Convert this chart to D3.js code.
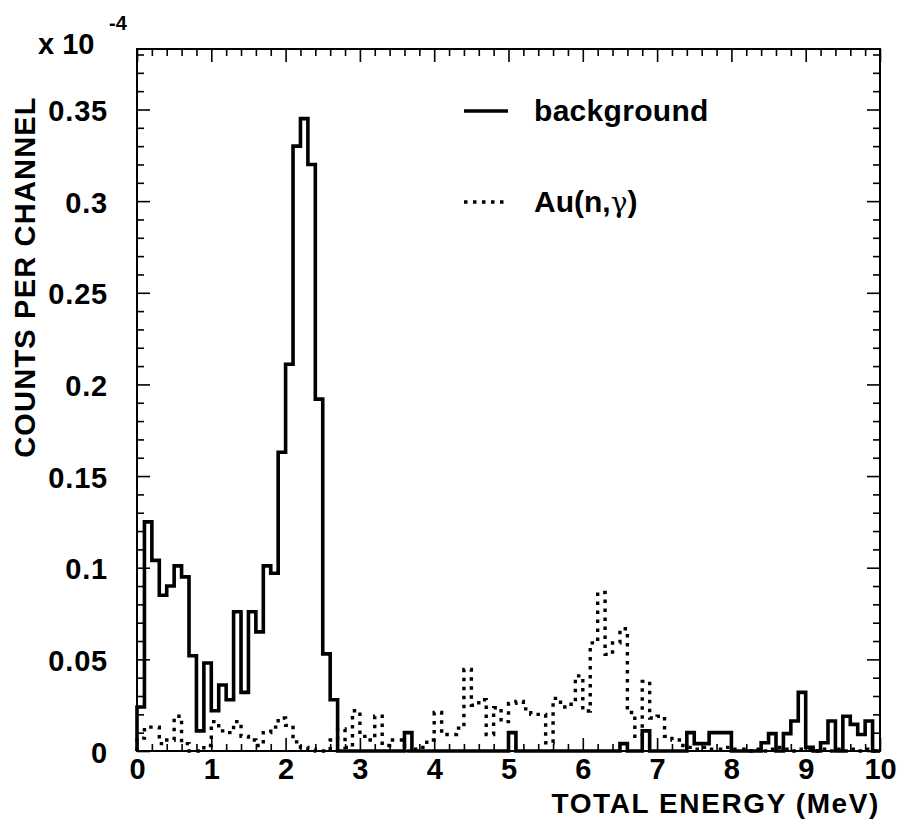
<!DOCTYPE html>
<html>
<head>
<meta charset="utf-8">
<script src="https://cdn.jsdelivr.net/npm/d3@7"></script>
<style>
  html, body { margin: 0; padding: 0; background: #fff; }
  svg { display: block; }
  text { font-family: "Liberation Sans", Arial, Helvetica, sans-serif; font-weight: bold; fill: #000; }
</style>
</head>
<body>
<svg id="chart" width="900" height="819"></svg>
<script>
// ---------- data ----------
const binLowEdges = d3.range(0, 100).map(i => i / 10);   // 0.1 MeV channels, 0 .. 10 MeV
const binWidth = 0.1;

const background = [
  0.024, 0.125, 0.104, 0.085, 0.090, 0.101, 0.095, 0.052, 0.011, 0.048,
  0.022, 0.036, 0.028, 0.076, 0.032, 0.076, 0.065, 0.101, 0.097, 0.163,
  0.211, 0.330, 0.345, 0.320, 0.192, 0.053, 0.028, 0.000, 0.000, 0.000,
  0.000, 0.000, 0.000, 0.000, 0.000, 0.000, 0.010, 0.000, 0.000, 0.000,
  0.000, 0.000, 0.000, 0.000, 0.000, 0.000, 0.000, 0.000, 0.000, 0.000,
  0.010, 0.000, 0.000, 0.000, 0.000, 0.000, 0.000, 0.000, 0.000, 0.000,
  0.000, 0.000, 0.000, 0.000, 0.000, 0.004, 0.000, 0.000, 0.011, 0.000,
  0.000, 0.000, 0.000, 0.000, 0.010, 0.004, 0.004, 0.010, 0.010, 0.010,
  0.000, 0.000, 0.000, 0.000, 0.0045, 0.0095, 0.000, 0.0095, 0.0164, 0.032,
  0.002, 0.000, 0.0045, 0.0164, 0.000, 0.019, 0.0145, 0.009, 0.0164, 0.000
];

const auNGamma = [
  0.007, 0.013, 0.013, 0.004, 0.006, 0.019, 0.004, 0.000, 0.000, 0.003,
  0.016, 0.011, 0.010, 0.016, 0.008, 0.006, 0.003, 0.010, 0.013, 0.018,
  0.014, 0.005, 0.002, 0.001, 0.000, 0.000, 0.006, 0.012, 0.002, 0.022,
  0.008, 0.006, 0.019, 0.003, 0.006, 0.006, 0.000, 0.001, 0.002, 0.006,
  0.021, 0.009, 0.009, 0.0125, 0.0445, 0.025, 0.028, 0.009, 0.0236, 0.016,
  0.026, 0.027, 0.023, 0.020, 0.020, 0.0045, 0.0287, 0.024, 0.0255, 0.041,
  0.0218, 0.059, 0.0865, 0.0527, 0.059, 0.0667, 0.021, 0.008, 0.038, 0.018,
  0.019, 0.008, 0.006, 0.003, 0.002, 0.001, 0.002, 0.001, 0.001, 0.002,
  0.001, 0.001, 0.000, 0.001, 0.000, 0.001, 0.002, 0.001, 0.000, 0.001,
  0.001, 0.000, 0.001, 0.000, 0.001, 0.000, 0.001, 0.000, 0.001, 0.000
];

const xMajorTicks = [0, 1, 2, 3, 4, 5, 6, 7, 8, 9, 10];
const xTickLabels = ["0", "1", "2", "3", "4", "5", "6", "7", "8", "9", "10"];
const yMajorTicks = [0, 0.05, 0.1, 0.15, 0.2, 0.25, 0.3, 0.35];
const yTickLabels = ["0", "0.05", "0.1", "0.15", "0.2", "0.25", "0.3", "0.35"];
const xDomain = [0, 10];
const yDomain = [0, 0.383];

const seriesNames = ["background", "Au(n,", "\u03b3", ")"];
const xTitle = "TOTAL ENERGY (MeV)";
const yTitle = "COUNTS PER CHANNEL";

// ---------- layout ----------
const L = 137, R = 880, T = 49, B = 751;
const svg = d3.select("#chart");
const x = d3.scaleLinear().domain(xDomain).range([L, R]);
const y = d3.scaleLinear().domain(yDomain).range([B, T]);

const xMinor = d3.range(0, 50).map(i => i * 0.2).filter(v => !xMajorTicks.some(m => Math.abs(m - v) < 1e-9));
const yMinor = d3.range(0, 39).map(i => i * 0.01).filter(v => v <= yDomain[1] && !yMajorTicks.some(m => Math.abs(m - v) < 1e-9));

function styleAxis(g) {
  g.select(".domain").remove();
  g.selectAll(".tick line").attr("stroke", "#000").attr("stroke-width", 1.6);
}

// minor ticks (all four sides)
svg.append("g").attr("transform", `translate(${L},0)`)
  .call(d3.axisLeft(y).tickValues(yMinor).tickSize(-7).tickFormat(""))
  .call(styleAxis);
svg.append("g").attr("transform", `translate(${R},0)`)
  .call(d3.axisRight(y).tickValues(yMinor).tickSize(-7).tickFormat(""))
  .call(styleAxis);
svg.append("g").attr("transform", `translate(0,${B})`)
  .call(d3.axisBottom(x).tickValues(xMinor).tickSize(-7).tickFormat(""))
  .call(styleAxis);
svg.append("g").attr("transform", `translate(0,${T})`)
  .call(d3.axisTop(x).tickValues(xMinor).tickSize(-7).tickFormat(""))
  .call(styleAxis);

// major ticks with labels
const yAxisG = svg.append("g").attr("transform", `translate(${L},0)`)
  .call(d3.axisLeft(y).tickValues(yMajorTicks).tickSize(-13).tickPadding(29)
    .tickFormat((d, i) => yTickLabels[i]))
  .call(styleAxis);
yAxisG.selectAll(".tick text").attr("font-size", 29).attr("dy", "0.38em")
  .attr("letter-spacing", 0.8)
  .attr("font-family", '"Liberation Sans", Arial, sans-serif').attr("font-weight", "bold");

svg.append("g").attr("transform", `translate(${R},0)`)
  .call(d3.axisRight(y).tickValues(yMajorTicks).tickSize(-13).tickFormat(""))
  .call(styleAxis);

const xAxisG = svg.append("g").attr("transform", `translate(0,${B})`)
  .call(d3.axisBottom(x).tickValues(xMajorTicks).tickSize(-13).tickPadding(7)
    .tickFormat((d, i) => xTickLabels[i]))
  .call(styleAxis);
xAxisG.selectAll(".tick text").attr("font-size", 29)
  .attr("font-family", '"Liberation Sans", Arial, sans-serif').attr("font-weight", "bold");

svg.append("g").attr("transform", `translate(0,${T})`)
  .call(d3.axisTop(x).tickValues(xMajorTicks).tickSize(-13).tickFormat(""))
  .call(styleAxis);

// ---------- histograms ----------
function stepPoints(values) {
  const pts = [[xDomain[0], 0]];
  values.forEach((v, i) => {
    pts.push([binLowEdges[i], v]);
    pts.push([binLowEdges[i] + binWidth, v]);
  });
  pts.push([xDomain[1], 0]);
  return pts;
}
const line = d3.line().x(d => x(d[0])).y(d => y(d[1]));

svg.append("path")
  .attr("d", line(stepPoints(auNGamma)))
  .attr("fill", "none").attr("stroke", "#000").attr("stroke-width", 3.4)
  .attr("stroke-dasharray", "3.5 5.5").attr("stroke-linejoin", "miter");

svg.append("path")
  .attr("d", line(stepPoints(background)))
  .attr("fill", "none").attr("stroke", "#000").attr("stroke-width", 3.6)
  .attr("stroke-linejoin", "miter");

// frame
svg.append("rect").attr("x", L).attr("y", T).attr("width", R - L).attr("height", B - T)
  .attr("fill", "none").attr("stroke", "#000").attr("stroke-width", 2);

// ---------- legend ----------
svg.append("line").attr("x1", 464).attr("x2", 508).attr("y1", 111).attr("y2", 111)
  .attr("stroke", "#000").attr("stroke-width", 3.6);
svg.append("text").attr("x", 534).attr("y", 121).attr("font-size", 30).attr("letter-spacing", 0.3)
  .text(seriesNames[0]);

svg.append("line").attr("x1", 464).attr("x2", 508).attr("y1", 202).attr("y2", 202)
  .attr("stroke", "#000").attr("stroke-width", 3.6).attr("stroke-dasharray", "3.5 5.5");
const auText = svg.append("text").attr("x", 534).attr("y", 212).attr("font-size", 30);
auText.append("tspan").text(seriesNames[1]);
auText.append("tspan").attr("font-family", '"DejaVu Serif", serif').attr("font-weight", "normal")
  .attr("font-size", 28).text(seriesNames[2]);
auText.append("tspan").text(seriesNames[3]);

// ---------- titles ----------
svg.append("text").attr("x", 880).attr("y", 813).attr("text-anchor", "end")
  .attr("font-size", 28).attr("letter-spacing", 1.6).text(xTitle);

svg.append("text").attr("transform", "translate(35,277) rotate(-90)")
  .attr("text-anchor", "middle").attr("font-size", 29).attr("letter-spacing", 1.2).text(yTitle);

// exponent label
svg.append("text").attr("x", 38).attr("y", 54).attr("font-size", 29).text("x 10");
svg.append("text").attr("x", 109).attr("y", 30).attr("font-size", 20).text("-4");
</script>
</body>
</html>
